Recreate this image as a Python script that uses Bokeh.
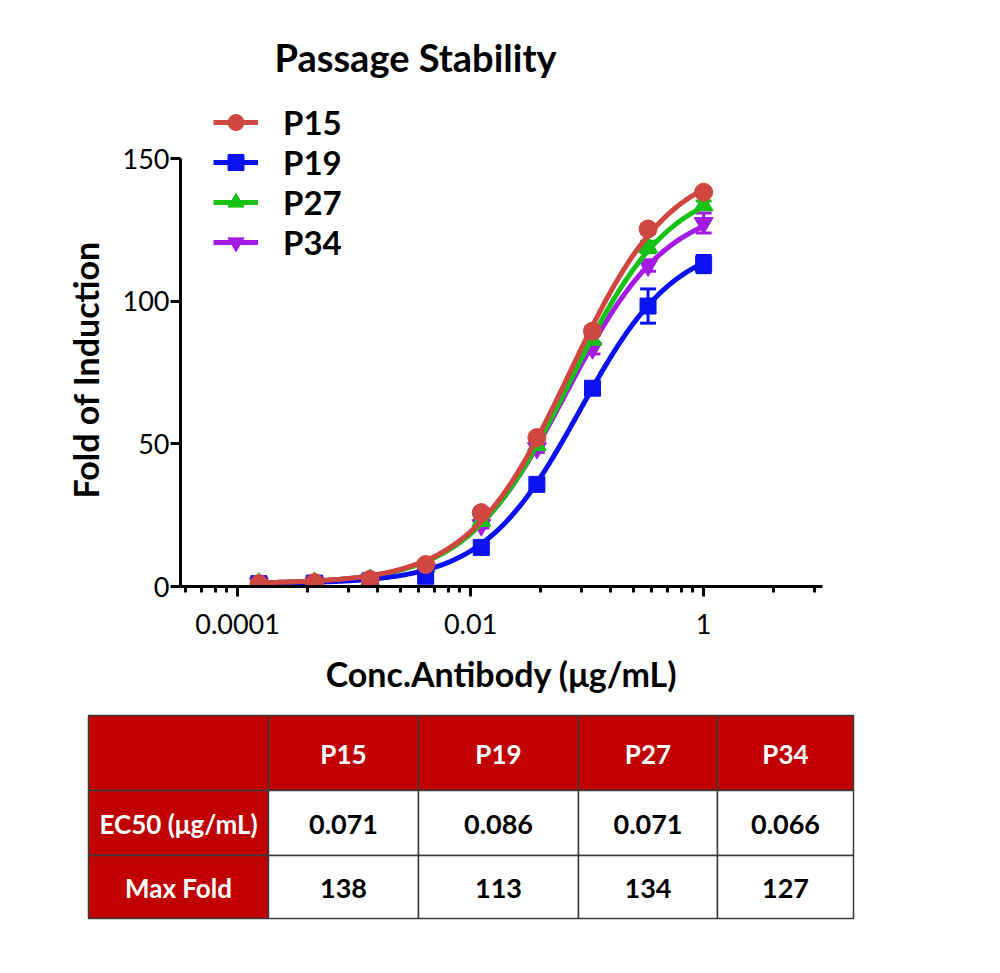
import numpy as np
from bokeh.plotting import figure
from bokeh.models import (Range1d, FixedTicker, Legend, LegendItem, Whisker, Title,
                          ColumnDataSource, CustomJSTickFormatter, TeeHead)
from bokeh.layouts import column, row
from bokeh.core.properties import value
from bokeh.embed import file_html
from bokeh.resources import INLINE

# ---------------- data ----------------
conc = [1/6561, 1/2187, 1/729, 1/243, 1/81, 1/27, 1/9, 1/3, 1.0]   # µg/mL, 3-fold dilution
p15 = [1.0, 1.4, 2.5, 7.7, 25.9, 52.2, 89.5, 125.3, 138.2]
p19 = [1.0, 1.2, 2.0, 3.6, 13.7, 35.8, 69.5, 98.3, 113.0]
p27 = [1.0, 1.3, 2.3, 7.0, 23.0, 49.5, 86.5, 119.0, 133.6]
p34 = [1.0, 1.3, 2.2, 6.3, 21.5, 48.5, 83.5, 112.5, 127.4]
err15 = [0.3, 0.3, 0.4, 0.8, 1.2, 1.5, 1.5, 1.5, 1.0]
err19 = [0.3, 0.3, 0.4, 0.6, 1.0, 1.5, 2.0, 6.0, 3.0]
err27 = [0.3, 0.3, 0.4, 0.6, 1.0, 1.5, 1.5, 2.0, 1.5]
err34 = [0.3, 0.3, 0.4, 0.6, 1.0, 1.5, 2.0, 2.0, 3.5]

passages = ["P15", "P19", "P27", "P34"]
ec50 = [0.071, 0.086, 0.071, 0.066]
max_fold = [138, 113, 134, 127]
# 4PL fit parameters (bottom, top, hill) for the drawn regression curves
fit_bottom = [1.0, 1.0, 1.0, 1.0]
fit_top = [149.0, 122.0, 142.5, 134.5]
fit_hill = [1.0, 1.05, 1.0, 1.0]

x_major = [1e-4, 1e-2, 1.0]
y_ticks = [0, 50, 100, 150]

colors = ["#CF4740", "#0B12F2", "#17C217", "#A41BE6"]
markers = ["circle", "square", "triangle", "inverted_triangle"]
msizes = [18, 16, 19, 19]
values = [p15, p19, p27, p34]
errors = [err15, err19, err27, err34]

FONT = "Lato"

# ---------------- chart ----------------
p = figure(width=1000, height=708, x_axis_type="log",
           x_range=Range1d(10**-4.49, 10**1.02), y_range=Range1d(0, 175.6),
           output_backend="svg", toolbar_location=None,
           min_border_left=180, min_border_right=178,
           min_border_top=85, min_border_bottom=122)
p.outline_line_color = None
p.grid.visible = False
p.background_fill_color = "white"

p.title.text = "Passage Stability"
p.title.text_font = FONT
p.title.text_font_size = "38px"
p.title.text_font_style = "bold"
p.title.text_color = "black"
p.title.align = "left"
p.title.offset = 94
p.title.standoff = 12

minor = [m * k * k for m in [1e-6, 1e-4, 1e-2, 1.0] for k in range(2, 10)]
p.xaxis.ticker = FixedTicker(ticks=x_major, minor_ticks=minor)
p.xaxis.formatter = CustomJSTickFormatter(code="return tick.toString();")
p.yaxis.ticker = FixedTicker(ticks=y_ticks, minor_ticks=[])
p.yaxis.bounds = (0, 150)

for ax in (p.xaxis, p.yaxis):
    ax.axis_line_width = 3
    ax.axis_line_color = "black"
    ax.major_tick_line_width = 3
    ax.minor_tick_line_width = 3
    ax.major_tick_out = 10
    ax.major_tick_in = 0
    ax.minor_tick_out = 6
    ax.minor_tick_in = 0
    ax.major_label_text_font = FONT
    ax.major_label_text_font_size = "27px"
    ax.major_label_text_color = "black"
    ax.axis_label_text_font = FONT
    ax.axis_label_text_font_size = "34px"
    ax.axis_label_text_font_style = "bold"
    ax.axis_label_text_color = "black"

p.xaxis.axis_label = "Conc.Antibody (μg/mL)"
p.xaxis.major_label_standoff = 17
p.xaxis.axis_label_standoff = 16
p.yaxis.major_label_standoff = 1

# y-axis title, placed along the 0–150 part of the axis
ytitle = Title(text="Fold of Induction", align="left", offset=88, standoff=27,
               text_font=FONT, text_font_size="34px", text_font_style="bold",
               text_color="black")
p.add_layout(ytitle, "left")

items = {}
xs = np.logspace(np.log10(conc[0]), 0, 300)
for i in [3, 2, 1, 0]:
    c = colors[i]
    ys = fit_bottom[i] + (fit_top[i] - fit_bottom[i]) / (1 + (ec50[i] / xs) ** fit_hill[i])
    lr = p.line(xs, ys, line_color=c, line_width=5)
    v = np.array(values[i])
    e = np.array(errors[i])
    src = ColumnDataSource(dict(x=conc, y=list(v), upper=list(v + e), lower=list(v - e)))
    w = Whisker(base="x", upper="upper", lower="lower", source=src,
                line_color=c, line_width=3,
                upper_head=TeeHead(size=16, line_color=c, line_width=3),
                lower_head=TeeHead(size=16, line_color=c, line_width=3))
    p.add_layout(w)
    sr = p.scatter("x", "y", source=src, marker=markers[i], size=msizes[i],
                   fill_color=c, line_color=c, line_width=1)
    items[i] = LegendItem(label=passages[i], renderers=[lr, sr])

legend = Legend(items=[items[i] for i in range(4)], location=(33, 324),
                glyph_width=45, glyph_height=40, label_height=40, spacing=0,
                padding=0, margin=0, label_standoff=25,
                border_line_color=None, background_fill_alpha=0,
                label_text_font=FONT, label_text_font_size="33px",
                label_text_font_style="bold", label_text_color="black")
p.add_layout(legend)

# ---------------- table ----------------
TW, TH = 1000, 257
col_edges = [88, 268, 418, 578, 717, 853]
row_edges = [7, 82, 147, 210]
RED = "#C00000"

t = figure(width=TW, height=TH, x_range=Range1d(0, TW), y_range=Range1d(TH, 0),
           output_backend="svg", toolbar_location=None,
           x_axis_location=None, y_axis_location=None,
           min_border=0, min_border_left=0, min_border_right=0,
           min_border_top=0, min_border_bottom=0)
t.outline_line_color = None
t.grid.visible = False

row_labels = ["", "EC50 (μg/mL)", "Max Fold"]
cells = [[""] + passages,
         [row_labels[1]] + ["%.3f" % v for v in ec50],
         [row_labels[2]] + [str(v) for v in max_fold]]

L, R, T, B, F = [], [], [], [], []
tx, ty, tt, tc, ts = [], [], [], [], []
for r in range(3):
    for cidx in range(5):
        L.append(col_edges[cidx]); R.append(col_edges[cidx + 1])
        T.append(row_edges[r]); B.append(row_edges[r + 1])
        header = (r == 0 or cidx == 0)
        F.append(RED if header else "white")
        tx.append((col_edges[cidx] + col_edges[cidx + 1]) / 2)
        ty.append((row_edges[r] + row_edges[r + 1]) / 2 + 1)
        tt.append(cells[r][cidx])
        tc.append("white" if header else "black")
        ts.append("26px" if header else "27px")

t.quad(left=L, right=R, top=T, bottom=B, fill_color=F,
       line_color="#3C3C3C", line_width=1.5)
tsrc = ColumnDataSource(dict(x=tx, y=ty, text=tt, color=tc, size=ts))
t.text("x", "y", text="text", source=tsrc, text_color="color", text_font_size="size",
       text_font=value(FONT), text_font_style="bold",
       text_align="center", text_baseline="middle")

layout = column(row(p), row(t), spacing=0)
open("out.html", "w").write(file_html(layout, INLINE))
